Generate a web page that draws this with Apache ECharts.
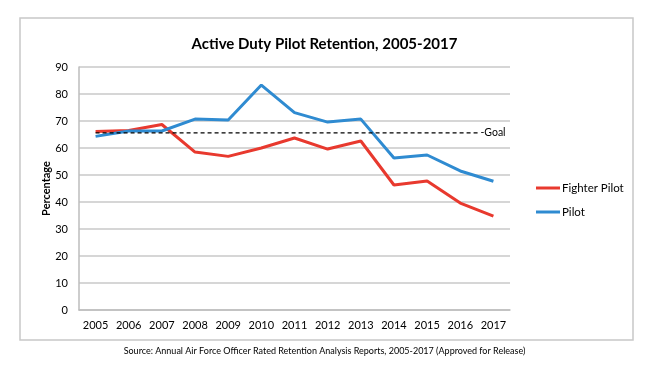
<!DOCTYPE html>
<html>
<head>
<meta charset="utf-8">
<script src="https://cdn.jsdelivr.net/npm/echarts@6/dist/echarts.min.js"></script>
<style>
  html, body { margin: 0; padding: 0; background: #fff; }
  #chart { width: 649px; height: 375px; }
</style>
</head>
<body>
<div id="chart"></div>
<script>
const years = ['2005', '2006', '2007', '2008', '2009', '2010', '2011', '2012', '2013', '2014', '2015', '2016', '2017']
const fighterPilot = [66.1, 66.5, 68.7, 58.5, 56.9, 60.0, 63.7, 59.6, 62.6, 46.3, 47.8, 39.6, 34.8]
const pilot = [64.3, 66.3, 66.3, 70.7, 70.4, 83.3, 73.1, 69.6, 70.7, 56.3, 57.4, 51.5, 47.7]
const goal = 65.6

const font = 'Lato, "Open Sans", sans-serif'

const chart = echarts.init(document.getElementById('chart'))

chart.setOption({
  animation: false,
  title: {
    text: 'Active Duty Pilot Retention, 2005-2017',
    left: 'center',
    top: 32,
    textStyle: { fontSize: 15, fontWeight: 'bold', color: '#000', fontFamily: font }
  },
  graphic: [
    {
      type: 'rect',
      shape: { x: 20, y: 18, width: 613, height: 322 },
      style: { fill: 'none', stroke: '#c8c8c8', lineWidth: 1.5 },
      z: -1
    },
    {
      type: 'text',
      left: 'center',
      top: 347,
      style: {
        text: 'Source: Annual Air Force Officer Rated Retention Analysis Reports, 2005-2017 (Approved for Release)',
        fontSize: 9,
        fontFamily: font,
        fill: '#000'
      }
    }
  ],
  legend: {
    orient: 'vertical',
    left: 531,
    top: 177,
    itemWidth: 24,
    itemHeight: 3,
    itemGap: 12,
    icon: 'rect',
    textStyle: { fontSize: 11.5, color: '#000', fontFamily: font, padding: [0, 0, 0, -3] },
    data: ['Fighter Pilot', 'Pilot']
  },
  grid: { left: 79, right: 139, top: 67, bottom: 65 },
  xAxis: {
    type: 'category',
    data: years,
    boundaryGap: true,
    axisLine: { lineStyle: { color: '#bdbdbd', width: 1.5 } },
    axisTick: { show: false },
    axisLabel: { color: '#000', fontSize: 11, fontFamily: font, margin: 10, interval: 0 }
  },
  yAxis: {
    type: 'value',
    min: 0,
    max: 90,
    interval: 10,
    name: 'Percentage',
    nameLocation: 'middle',
    nameGap: 27,
    nameMoveOverlap: false,
    nameTextStyle: { fontSize: 11, fontWeight: 'bold', color: '#000', fontFamily: font },
    axisLine: { show: true, lineStyle: { color: '#bdbdbd', width: 1.5 } },
    axisTick: { show: false },
    splitLine: { lineStyle: { color: '#c8c8c8', width: 1.5 } },
    axisLabel: { color: '#000', fontSize: 11, fontFamily: font, margin: 11 }
  },
  series: [
    {
      name: 'Fighter Pilot',
      type: 'line',
      data: fighterPilot,
      symbol: 'none',
      lineStyle: { color: '#e8392e', width: 3 },
      itemStyle: { color: '#e8392e' },
      z: 3
    },
    {
      name: 'Pilot',
      type: 'line',
      data: pilot,
      symbol: 'none',
      lineStyle: { color: '#2f8bd1', width: 3 },
      itemStyle: { color: '#2f8bd1' },
      z: 3
    },
    {
      name: 'Goal',
      type: 'line',
      data: years.map(() => goal),
      symbol: 'none',
      lineStyle: { color: '#000', width: 1.2, type: [4, 3] },
      endLabel: {
        show: true,
        formatter: '-Goal',
        offset: [-22, 0],
        backgroundColor: '#fff',
        color: '#000',
        fontSize: 10.5,
        fontFamily: font,
        padding: [0, 1]
      },
      z: 4
    }
  ]
})
</script>
</body>
</html>
